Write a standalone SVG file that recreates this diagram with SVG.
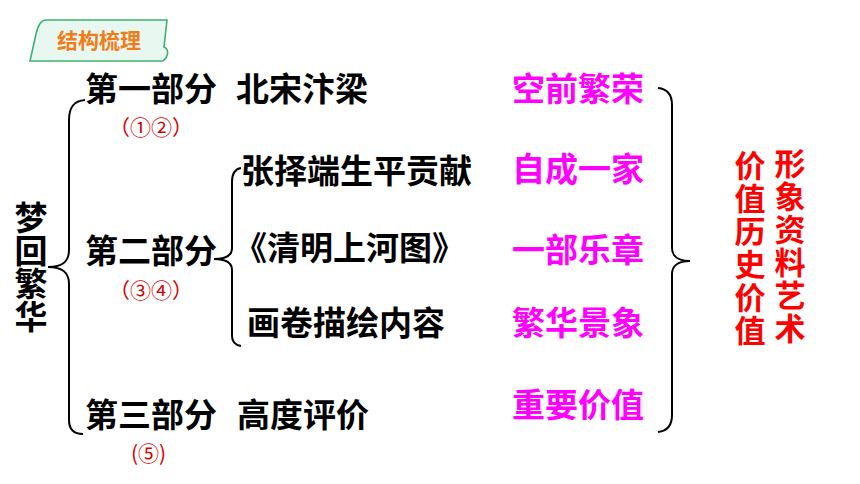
<svg xmlns="http://www.w3.org/2000/svg" width="860" height="484" viewBox="0 0 860 484">
<style>
.main{font-family:"Noto Sans CJK SC","Noto Sans CJK JP",sans-serif;font-size:33px;font-weight:bold;fill:#000}
.mag{font-family:"Noto Sans CJK SC",sans-serif;font-size:33px;font-weight:bold;fill:#FF00FF}
.vert{writing-mode:vertical-rl;font-family:"Noto Sans CJK SC",sans-serif;font-weight:bold}
.red{font-size:31px;fill:#FF0000;letter-spacing:2px}
.note{font-family:"Noto Sans CJK SC",serif;font-size:21px;font-weight:normal;fill:#D40000}
.brace{fill:none;stroke:#000;stroke-width:2}
</style>
<rect width="860" height="484" fill="#fff"/>
<g id="tag">
<path d="M30,61 L36,34 C38,25 41,20 46,20 L167,20 L164,47 C169,49 169,56 163,61 Z" fill="#E8F8F0" stroke="#3CB371" stroke-width="1.6"/>
<text x="57" y="48" style="font-family:'Noto Sans CJK SC',sans-serif;font-size:21px;font-weight:bold;fill:#F07D1A">结构梳理</text>
</g>
<g id="connectors">
<path class="brace" d="M85,100 C73,101 69,108 69,120 L69,250 C69,262 62,267 48,267 C62,267 69,272 69,284 L69,420 C69,430 74,434 83,434"/>
<path class="brace" d="M241,168 C235,169 232,174 232,182 L232,248 C232,255 226,259 214,259 C226,259 232,263 232,270 L232,336 C232,342 235,345 241,346"/>
<path class="brace" d="M658,88 C668,89 672,95 672,105 L672,248 C672,256 678,261 690,261 C678,261 672,266 672,274 L672,415 C672,426 667,431 658,432"/>
</g>
<g id="root">
<text class="vert" x="31" y="201" style="font-size:33px;fill:#000">梦回繁华</text>
</g>
<g id="part1">
<text class="main" x="85" y="101">第一部分</text>
<text class="main" x="236" y="101">北宋汴梁</text>
<text class="note" x="109" y="135">（①②）</text>
</g>
<g id="part2">
<text class="main" x="85" y="263">第二部分</text>
<text class="note" x="109" y="298">（③④）</text>
</g>
<g id="sub1"><text class="main" x="241" y="183">张择端生平贡献</text></g>
<g id="sub2"><text class="main" x="234" y="260">《清明上河图》</text></g>
<g id="sub3"><text class="main" x="247" y="335">画卷描绘内容</text></g>
<g id="part3">
<text class="main" x="85" y="427">第三部分</text>
<text class="main" x="237" y="427">高度评价</text>
<text class="note" x="131" y="461">(⑤)</text>
</g>
<g id="keywords">
<text class="mag" x="512" y="101">空前繁荣</text>
<text class="mag" x="512" y="181">自成一家</text>
<text class="mag" x="512" y="262">一部乐章</text>
<text class="mag" x="512" y="335">繁华景象</text>
<text class="mag" x="512" y="417">重要价值</text>
</g>
<g id="values">
<text class="vert red" x="750" y="150">价值历史价值</text>
<text class="vert red" x="790" y="148">形象资料艺术</text>
</g>
</svg>
